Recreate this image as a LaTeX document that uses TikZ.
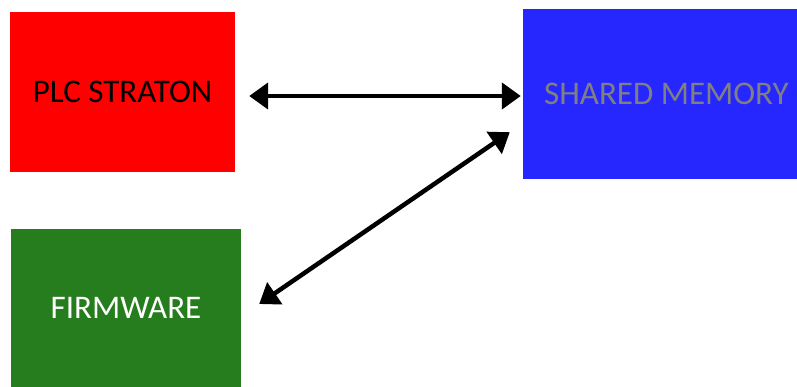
\documentclass[tikz,border=0pt]{standalone}
\usepackage{fontspec}
\setmainfont{Carlito}
\usepackage{tikz}
\usetikzlibrary{arrows.meta,positioning,calc}
\definecolor{plcred}{RGB}{255,0,0}
\definecolor{memblue}{RGB}{38,38,255}
\definecolor{fwgreen}{RGB}{38,125,29}
\definecolor{memtext}{RGB}{128,128,128}

\begin{document}
\begin{tikzpicture}[x=1pt, y=-1pt,
  block/.style={rectangle, inner sep=0pt, font=\fontsize{33}{36}\selectfont},
  arr/.style={{Triangle[length=19pt, width=26pt]}-{Triangle[length=19pt, width=26pt]}, line width=4.5pt, black}
]
  \useasboundingbox (0,0) rectangle (797,387);
  \clip (0,0) rectangle (797,387);

  \node[block, fill=plcred, minimum width=225pt, minimum height=160pt] (plc) at (122.5,92) {PLC STRATON};
  \node[block, fill=memblue, text=memtext, minimum width=287pt, minimum height=170pt] (mem) at (666.5,94) {SHARED MEMORY};
  \node[block, fill=fwgreen, text=white, minimum width=230pt, minimum height=158pt] (fw) at (126,308) {FIRMWARE};

  \draw[arr] ([shift={(14pt,-4pt)}]plc.east) -- ([shift={(-2pt,-2pt)}]mem.west);
  \draw[arr] ([shift={(18pt,4pt)}]fw.east) -- ([shift={(-13pt,47pt)}]mem.south west);
\end{tikzpicture}
\end{document}
